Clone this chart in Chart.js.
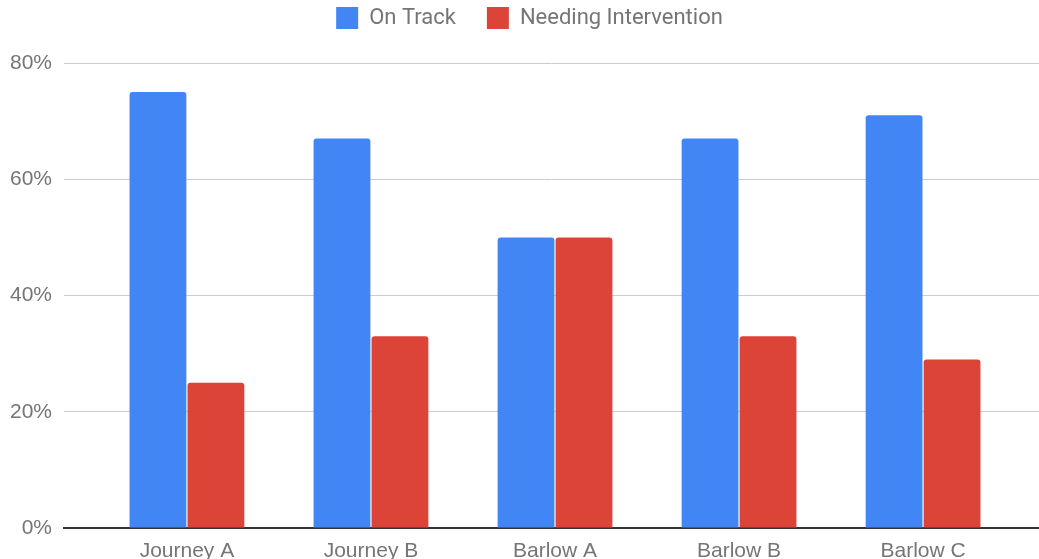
<!DOCTYPE html>
<html>
<head>
<meta charset="utf-8">
<script src="https://cdn.jsdelivr.net/npm/chart.js@4"></script>
<style>
  html, body { margin: 0; padding: 0; background: #fff; }
  #wrap { width: 1039px; height: 559px; }
</style>
</head>
<body>
<div id="wrap"><canvas id="grafico"></canvas></div>
<script>
const categorias = ["Journey A", "Journey B", "Barlow A", "Barlow B", "Barlow C"];
const onTrack = [75, 67, 50, 67, 71];
const needingIntervention = [25, 33, 50, 33, 29];
const yTicks = [0, 20, 40, 60, 80];

const COR_AZUL = "#4285F4";
const COR_VERMELHO = "#DB4437";
const COR_TEXTO = "#757575";
const FONTE_LEGENDA = "Roboto, 'Liberation Sans', Arial, sans-serif";
const FONTE_EIXO = "'Liberation Sans', Arial, sans-serif";

// barras em escala linear para a grade poder passar das categorias
const pontos = vals => vals.map((v, i) => ({ x: i, y: v }));

// espaço extra entre a legenda e a área do gráfico, e legenda um pouco à direita
const ajusteLegenda = {
    id: "ajusteLegenda",
    afterInit(chart) {
        const fitOrig = chart.legend.fit;
        chart.legend.fit = function () {
            fitOrig.call(this);
            this.height += 24;
        };
    },
    afterLayout(chart) {
        chart.legend.left += 10;
        chart.legend.right += 10;
    }
};

new Chart(document.getElementById("grafico"), {
    type: "bar",
    data: {
        datasets: [
            {
                label: "On Track",
                data: pontos(onTrack),
                backgroundColor: COR_AZUL,
                borderRadius: { topLeft: 3, topRight: 3 },
                borderSkipped: "bottom",
                categoryPercentage: 0.63,
                barPercentage: 0.98
            },
            {
                label: "Needing Intervention",
                data: pontos(needingIntervention),
                backgroundColor: COR_VERMELHO,
                borderRadius: { topLeft: 3, topRight: 3 },
                borderSkipped: "bottom",
                categoryPercentage: 0.63,
                barPercentage: 0.98
            }
        ]
    },
    options: {
        responsive: true,
        maintainAspectRatio: false,
        animation: false,
        layout: { padding: { left: 0, right: 0, top: -24, bottom: 0 } },
        plugins: {
            tooltip: { enabled: false },
            legend: {
                position: "top",
                labels: {
                    boxWidth: 22,
                    boxHeight: 22,
                    padding: 31,
                    color: COR_TEXTO,
                    font: { family: FONTE_LEGENDA, size: 22 }
                }
            }
        },
        scales: {
            x: {
                type: "linear",
                offset: false,
                min: -0.668,
                max: 4.63,
                grid: { display: false },
                border: { display: true, color: "#333", width: 2 },
                afterFit: s => { s.height = 31; },
                ticks: {
                    stepSize: 1,
                    includeBounds: false,
                    autoSkip: false,
                    maxRotation: 0,
                    padding: 3,
                    color: COR_TEXTO,
                    font: { family: FONTE_EIXO, size: 21 },
                    callback: v => categorias[v] ?? ""
                }
            },
            y: {
                min: 0,
                max: 80,
                border: { display: false },
                afterFit: s => { s.width = 64; },
                afterBuildTicks: s => { s.ticks = yTicks.map(v => ({ value: v })); },
                grid: {
                    drawTicks: false,
                    color: ctx => ctx.tick && ctx.tick.value === 0 ? "rgba(0,0,0,0)" : "#cccccc",
                    lineWidth: 1
                },
                ticks: {
                    padding: 12,
                    color: COR_TEXTO,
                    font: { family: FONTE_EIXO, size: 21 },
                    callback: v => v + "%"
                }
            }
        }
    },
    plugins: [ajusteLegenda]
});
</script>
</body>
</html>
